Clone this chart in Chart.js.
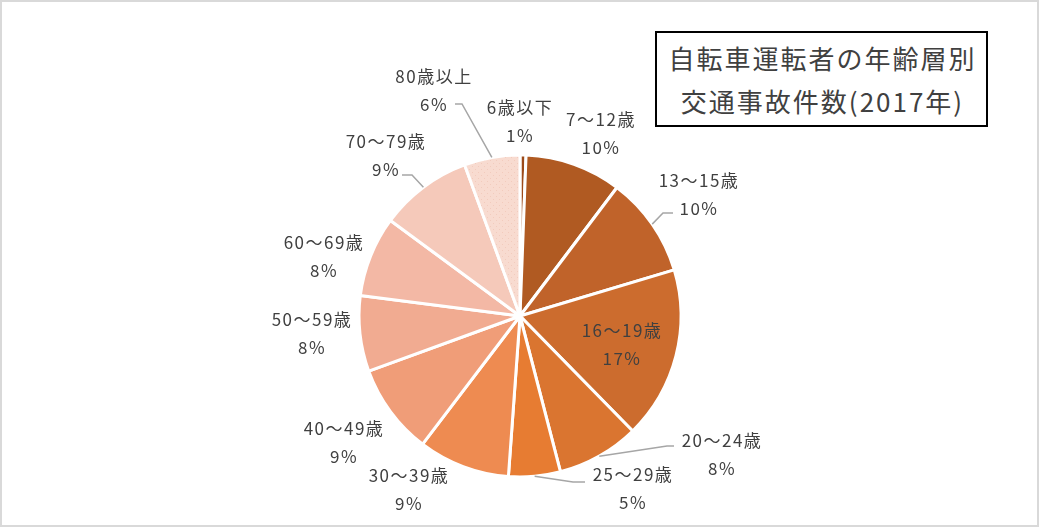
<!DOCTYPE html>
<html>
<head>
<meta charset="utf-8">
<script src="https://cdn.jsdelivr.net/npm/chart.js@4"></script>
<style>
  body { margin: 0; background: #fff; }
  #wrap { position: relative; width: 1039px; height: 527px; }
  #title {
    position: absolute; left: 655px; top: 31px; width: 333px; height: 96px;
    box-sizing: border-box; border: 2px solid #000; background: #fff;
    font-family: "Noto Sans CJK JP", sans-serif; font-size: 26px; color: #404040;
    text-align: center; line-height: 43px; padding-top: 3px; padding-left: 2px; letter-spacing: 2px;
  }
</style>
</head>
<body>
<div id="wrap">
  <canvas id="pie" width="1039" height="527"></canvas>
  <div id="title">自転車運転者の年齢層別<br>交通事故件数(2017年)</div>
</div>
<script>
// categories and share (%)
let ages = ['6歳以下','7～12歳','13～15歳','16～19歳','20～24歳','25～29歳','30～39歳','40～49歳','50～59歳','60～69歳','70～79歳','80歳以上'];
let shares = [0.6, 9.7, 10.1, 17.3, 8.3, 5.2, 9.2, 9.1, 7.6, 8.1, 9.3, 5.6];

let colors = ['#9c4a1a','#b05a22','#c0632a','#cc6c2e','#da7530','#e77c32','#ee8b51','#f09d78','#f1ab91','#f3b8a5','#f5c9ba','#f8dbd0'];

// where each data label sits (text centre of first line)
let labelPos = [[519,108],[600,120],[698,181],[621,331],[721,441],[632,475],[408,476],[343,429],[311,320],[323,243],[385,142],[433,77]];
// leader line elbow + end of short horizontal piece, null = no leader
let leaders = [null,null,[663,213,673],null,[667,446,674],[573,482,585],null,null,null,null,[412,175,402],[462,104,455]];

function dotted(base, dot){
    let c = document.createElement('canvas');
    c.width = 6; c.height = 6;
    let x = c.getContext('2d');
    x.fillStyle = base; x.fillRect(0,0,6,6);
    x.fillStyle = dot; x.fillRect(1,1,1,1); x.fillRect(4,4,1,1);
    return x.createPattern(c,'repeat');
}
let fills = colors.slice();
fills[11] = dotted('#f8dbd0','#f2cbbd');

let total = shares.reduce((a,b)=>a+b,0);

let labelPlugin = {
    id:'labels',
    beforeDraw(chart){
        let ctx = chart.ctx;
        ctx.save();
        ctx.strokeStyle = '#d9d9d9';
        ctx.lineWidth = 2;
        ctx.strokeRect(1,1,chart.width-2,chart.height-2);
        ctx.restore();
    },
    afterDraw(chart){
        let ctx = chart.ctx;
        let arcs = chart.getDatasetMeta(0).data;
        ctx.save();
        ctx.strokeStyle = '#a6a6a6';
        ctx.lineWidth = 1.5;
        for(let i=0;i<arcs.length;i++){
            let l = leaders[i];
            if(!l) continue;
            let a = arcs[i];
            let mid = (a.startAngle + a.endAngle)/2;
            let px = a.x + Math.cos(mid)*a.outerRadius;
            let py = a.y + Math.sin(mid)*a.outerRadius;
            ctx.beginPath();
            ctx.moveTo(px,py);
            ctx.lineTo(l[0],l[1]);
            ctx.lineTo(l[2],l[1]);
            ctx.stroke();
        }
        ctx.fillStyle = '#404040';
        ctx.font = '17px "Noto Sans CJK JP"';
        ctx.letterSpacing = '1.5px';
        ctx.textAlign = 'center';
        ctx.textBaseline = 'middle';
        for(let i=0;i<ages.length;i++){
            let p = labelPos[i];
            let pct = Math.round(shares[i]/total*100);
            if(pct<1) pct = 1;
            ctx.fillText(ages[i], p[0]+1, p[1]);
            ctx.fillText(pct+'%', p[0]+1, p[1]+28);
        }
        ctx.restore();
    }
};

new Chart(document.getElementById('pie'),{
    type:'pie',
    data:{
        labels:ages,
        datasets:[{
            data:shares,
            backgroundColor:fills,
            borderColor:'#ffffff',
            borderWidth:3
        }]
    },
    options:{
        responsive:false,
        animation:false,
        radius:161,
        layout:{ padding:{ left:360, right:359, top:156, bottom:51 } },
        plugins:{
            legend:{ display:false },
            tooltip:{ enabled:false }
        }
    },
    plugins:[labelPlugin]
});
</script>
</body>
</html>
